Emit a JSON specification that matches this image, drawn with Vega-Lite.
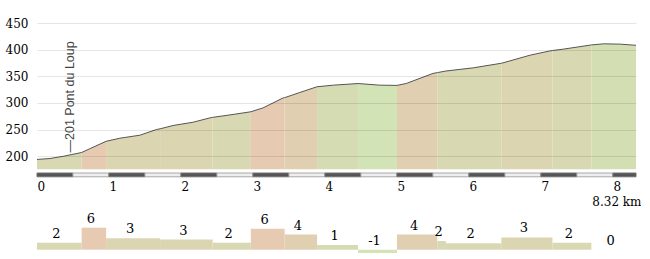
{
  "$schema": "https://vega.github.io/schema/vega-lite/v6.json",
  "padding": {"left": 5, "top": 5, "right": 0, "bottom": 0},
  "background": "white",
  "spacing": 5,
  "config": {
    "view": {"stroke": null},
    "axis": {
      "labelFont": "DejaVu Serif", "labelFontSize": 12, "labelColor": "#000",
      "titleFont": "DejaVu Serif", "titleFontSize": 12, "titleFontWeight": "normal", "titleColor": "#000",
      "domain": false, "ticks": false
    }
  },
  "datasets": {
    "segs": [
      {"id": 1, "s": 0, "e": 0.62, "grade": 1.9, "pct": 2},
      {"id": 2, "s": 0.62, "e": 0.96, "grade": 6.1, "pct": 6},
      {"id": 3, "s": 0.96, "e": 1.71, "grade": 3.2, "pct": 3},
      {"id": 4, "s": 1.71, "e": 2.44, "grade": 2.8, "pct": 3},
      {"id": 5, "s": 2.44, "e": 2.97, "grade": 1.9, "pct": 2},
      {"id": 6, "s": 2.97, "e": 3.44, "grade": 5.8, "pct": 6},
      {"id": 7, "s": 3.44, "e": 3.89, "grade": 4.2, "pct": 4},
      {"id": 8, "s": 3.89, "e": 4.46, "grade": 1.3, "pct": 1},
      {"id": 9, "s": 4.46, "e": 5.0, "grade": -0.95, "pct": -1},
      {"id": 10, "s": 5.0, "e": 5.56, "grade": 4.2, "pct": 4},
      {"id": 11, "s": 5.56, "e": 5.68, "grade": 2.4, "pct": 2},
      {"id": 12, "s": 5.68, "e": 6.45, "grade": 1.8, "pct": 2},
      {"id": 13, "s": 6.45, "e": 7.16, "grade": 3.4, "pct": 3},
      {"id": 14, "s": 7.16, "e": 7.70, "grade": 1.9, "pct": 2},
      {"id": 15, "s": 7.70, "e": 8.32, "grade": 0, "pct": 0}
    ],
    "profile": [
      {"seg": 1, "km": 0, "ele": 194}, {"seg": 1, "km": 0.18, "ele": 195.7}, {"seg": 1, "km": 0.37, "ele": 200}, {"seg": 1, "km": 0.62, "ele": 207},
      {"seg": 2, "km": 0.62, "ele": 207}, {"seg": 2, "km": 0.74, "ele": 214.5}, {"seg": 2, "km": 0.96, "ele": 228},
      {"seg": 3, "km": 0.96, "ele": 228}, {"seg": 3, "km": 1.15, "ele": 233.8}, {"seg": 3, "km": 1.43, "ele": 239.5}, {"seg": 3, "km": 1.66, "ele": 250.2}, {"seg": 3, "km": 1.71, "ele": 251.5},
      {"seg": 4, "km": 1.71, "ele": 251.5}, {"seg": 4, "km": 1.89, "ele": 257.7}, {"seg": 4, "km": 2.17, "ele": 263.9}, {"seg": 4, "km": 2.40, "ele": 272}, {"seg": 4, "km": 2.44, "ele": 273},
      {"seg": 5, "km": 2.44, "ele": 273}, {"seg": 5, "km": 2.68, "ele": 277.6}, {"seg": 5, "km": 2.97, "ele": 283.5},
      {"seg": 6, "km": 2.97, "ele": 283.5}, {"seg": 6, "km": 3.14, "ele": 290.8}, {"seg": 6, "km": 3.42, "ele": 309.6}, {"seg": 6, "km": 3.44, "ele": 310},
      {"seg": 7, "km": 3.44, "ele": 310}, {"seg": 7, "km": 3.65, "ele": 319.7}, {"seg": 7, "km": 3.89, "ele": 330.5},
      {"seg": 8, "km": 3.89, "ele": 330.5}, {"seg": 8, "km": 4.12, "ele": 333.5}, {"seg": 8, "km": 4.46, "ele": 336.5},
      {"seg": 9, "km": 4.46, "ele": 336.5}, {"seg": 9, "km": 4.76, "ele": 333.5}, {"seg": 9, "km": 5.0, "ele": 333},
      {"seg": 10, "km": 5.0, "ele": 333}, {"seg": 10, "km": 5.13, "ele": 336.7}, {"seg": 10, "km": 5.50, "ele": 355.5}, {"seg": 10, "km": 5.56, "ele": 357},
      {"seg": 11, "km": 5.56, "ele": 357}, {"seg": 11, "km": 5.68, "ele": 360},
      {"seg": 12, "km": 5.68, "ele": 360}, {"seg": 12, "km": 6.06, "ele": 366}, {"seg": 12, "km": 6.43, "ele": 374.2}, {"seg": 12, "km": 6.45, "ele": 374.5},
      {"seg": 13, "km": 6.45, "ele": 374.5}, {"seg": 13, "km": 6.85, "ele": 389.8}, {"seg": 13, "km": 7.13, "ele": 397.9}, {"seg": 13, "km": 7.16, "ele": 398.5},
      {"seg": 14, "km": 7.16, "ele": 398.5}, {"seg": 14, "km": 7.31, "ele": 401.1}, {"seg": 14, "km": 7.68, "ele": 408.6}, {"seg": 14, "km": 7.70, "ele": 409},
      {"seg": 15, "km": 7.70, "ele": 409}, {"seg": 15, "km": 7.87, "ele": 411.1}, {"seg": 15, "km": 8.10, "ele": 410.5}, {"seg": 15, "km": 8.29, "ele": 408.6}, {"seg": 15, "km": 8.32, "ele": 408.5}
    ],
    "scalebar": [
      {"a": 0, "b": 0.5, "shade": "dark"}, {"a": 0.5, "b": 1, "shade": "light"},
      {"a": 1, "b": 1.5, "shade": "dark"}, {"a": 1.5, "b": 2, "shade": "light"},
      {"a": 2, "b": 2.5, "shade": "dark"}, {"a": 2.5, "b": 3, "shade": "light"},
      {"a": 3, "b": 3.5, "shade": "dark"}, {"a": 3.5, "b": 4, "shade": "light"},
      {"a": 4, "b": 4.5, "shade": "dark"}, {"a": 4.5, "b": 5, "shade": "light"},
      {"a": 5, "b": 5.5, "shade": "dark"}, {"a": 5.5, "b": 6, "shade": "light"},
      {"a": 6, "b": 6.5, "shade": "dark"}, {"a": 6.5, "b": 7, "shade": "light"},
      {"a": 7, "b": 7.5, "shade": "dark"}, {"a": 7.5, "b": 8, "shade": "light"},
      {"a": 8, "b": 8.32, "shade": "dark"}
    ],
    "wp": [{"km": 0.46, "ele": 207, "name": "—201 Pont du Loup"}]
  },
  "vconcat": [
    {
      "width": 599,
      "height": 172,
      "layer": [
        {
          "encoding": {
            "x": {"field": "km", "type": "quantitative", "scale": {"domain": [0, 8.32], "nice": false},
              "axis": {"values": [0, 1, 2, 3, 4, 5, 6, 7, 8], "format": "d", "labelAlign": "left", "labelDx": -1, "labelPadding": 4, "grid": false,
                "title": "8.32 km", "titleAnchor": "end", "titleAlign": "right", "titleX": 604, "titlePadding": 4}},
            "y": {"field": "ele", "type": "quantitative", "scale": {"domain": [161, 484], "nice": false, "zero": false},
              "axis": {"values": [200, 250, 300, 350, 400, 450], "format": "d", "labelOverlap": false, "grid": true, "gridColor": "#000", "gridOpacity": 0.1, "labelPadding": 9, "title": null, "zindex": 1}}
          },
          "layer": [
            {
              "data": {"name": "profile"},
              "transform": [{"lookup": "seg", "from": {"data": {"name": "segs"}, "key": "id", "fields": ["pct"]}}],
              "mark": {"type": "area", "interpolate": "linear"},
              "encoding": {
                "y2": {"datum": 175.7},
                "color": {"field": "pct", "type": "nominal",
                  "scale": {"domain": [6, 4, 3, 2, 1, 0, -1], "range": ["#e6cbb2", "#e1cfb2", "#dcd5b2", "#d8d8b2", "#d5dbb2", "#d3dfb3", "#d2e3b6"]},
                  "legend": null},
                "detail": {"field": "seg"}
              }
            },
            {
              "data": {"name": "profile"},
              "mark": {"type": "line", "interpolate": "linear", "color": "#555555", "strokeWidth": 1},
              "encoding": {}
            },
            {
              "data": {"name": "wp"},
              "mark": {"type": "text", "angle": 270, "align": "left", "baseline": "middle", "font": "Liberation Sans", "fontSize": 12.5, "color": "#444444"},
              "encoding": {
                "text": {"field": "name"}
              }
            }
          ]
        },
        {
          "data": {"name": "scalebar"},
          "mark": {"type": "rect", "strokeWidth": 1},
          "encoding": {
            "x": {"field": "a", "type": "quantitative", "scale": {"domain": [0, 8.32], "nice": false},
              "axis": {"values": [0, 1, 2, 3, 4, 5, 6, 7, 8], "format": "d", "labelAlign": "left", "labelDx": -1, "labelPadding": 4, "grid": false,
                "title": "8.32 km", "titleAnchor": "end", "titleAlign": "right", "titleX": 604, "titlePadding": 4}},
            "x2": {"field": "b"},
            "y": {"datum": 161.4, "type": "quantitative", "scale": {"domain": [161, 484], "nice": false, "zero": false},
              "axis": {"values": [200, 250, 300, 350, 400, 450], "format": "d", "labelOverlap": false, "grid": true, "gridColor": "#000", "gridOpacity": 0.1, "labelPadding": 9, "title": null, "zindex": 1}},
            "y2": {"datum": 168.5},
            "fill": {"field": "shade", "type": "nominal", "scale": {"domain": ["dark", "light"], "range": ["#555555", "#eeeeee"]}, "legend": null},
            "stroke": {"field": "shade", "type": "nominal", "scale": {"domain": ["dark", "light"], "range": ["#707070", "#a8a8a8"]}, "legend": null}
          }
        }
      ]
    },
    {
      "width": 599,
      "height": 40,
      "data": {"name": "segs"},
      "transform": [
        {"calculate": "(datum.s + datum.e) / 2", "as": "mid"},
        {"calculate": "max(datum.grade, 0)", "as": "top"}
      ],
      "layer": [
        {
          "mark": {"type": "rect"},
          "encoding": {
            "x": {"field": "s", "type": "quantitative", "scale": {"domain": [0, 8.32], "nice": false}, "axis": null},
            "x2": {"field": "e"},
            "y": {"field": "grade", "type": "quantitative", "scale": {"domain": [-1.2, 9.9], "nice": false, "zero": false}, "axis": null},
            "y2": {"datum": 0},
            "color": {"field": "pct", "type": "nominal",
              "scale": {"domain": [6, 4, 3, 2, 1, 0, -1], "range": ["#e6cbb2", "#e1cfb2", "#dcd5b2", "#d8d8b2", "#d5dbb2", "#d3dfb3", "#d2e3b6"]},
              "legend": null}
          }
        },
        {
          "mark": {"type": "text", "font": "DejaVu Serif", "fontSize": 13, "baseline": "alphabetic", "dy": -5, "dx": -3, "color": "#000"},
          "encoding": {
            "x": {"field": "mid", "type": "quantitative"},
            "y": {"field": "top", "type": "quantitative"},
            "text": {"field": "pct", "type": "nominal"}
          }
        }
      ]
    }
  ]
}
